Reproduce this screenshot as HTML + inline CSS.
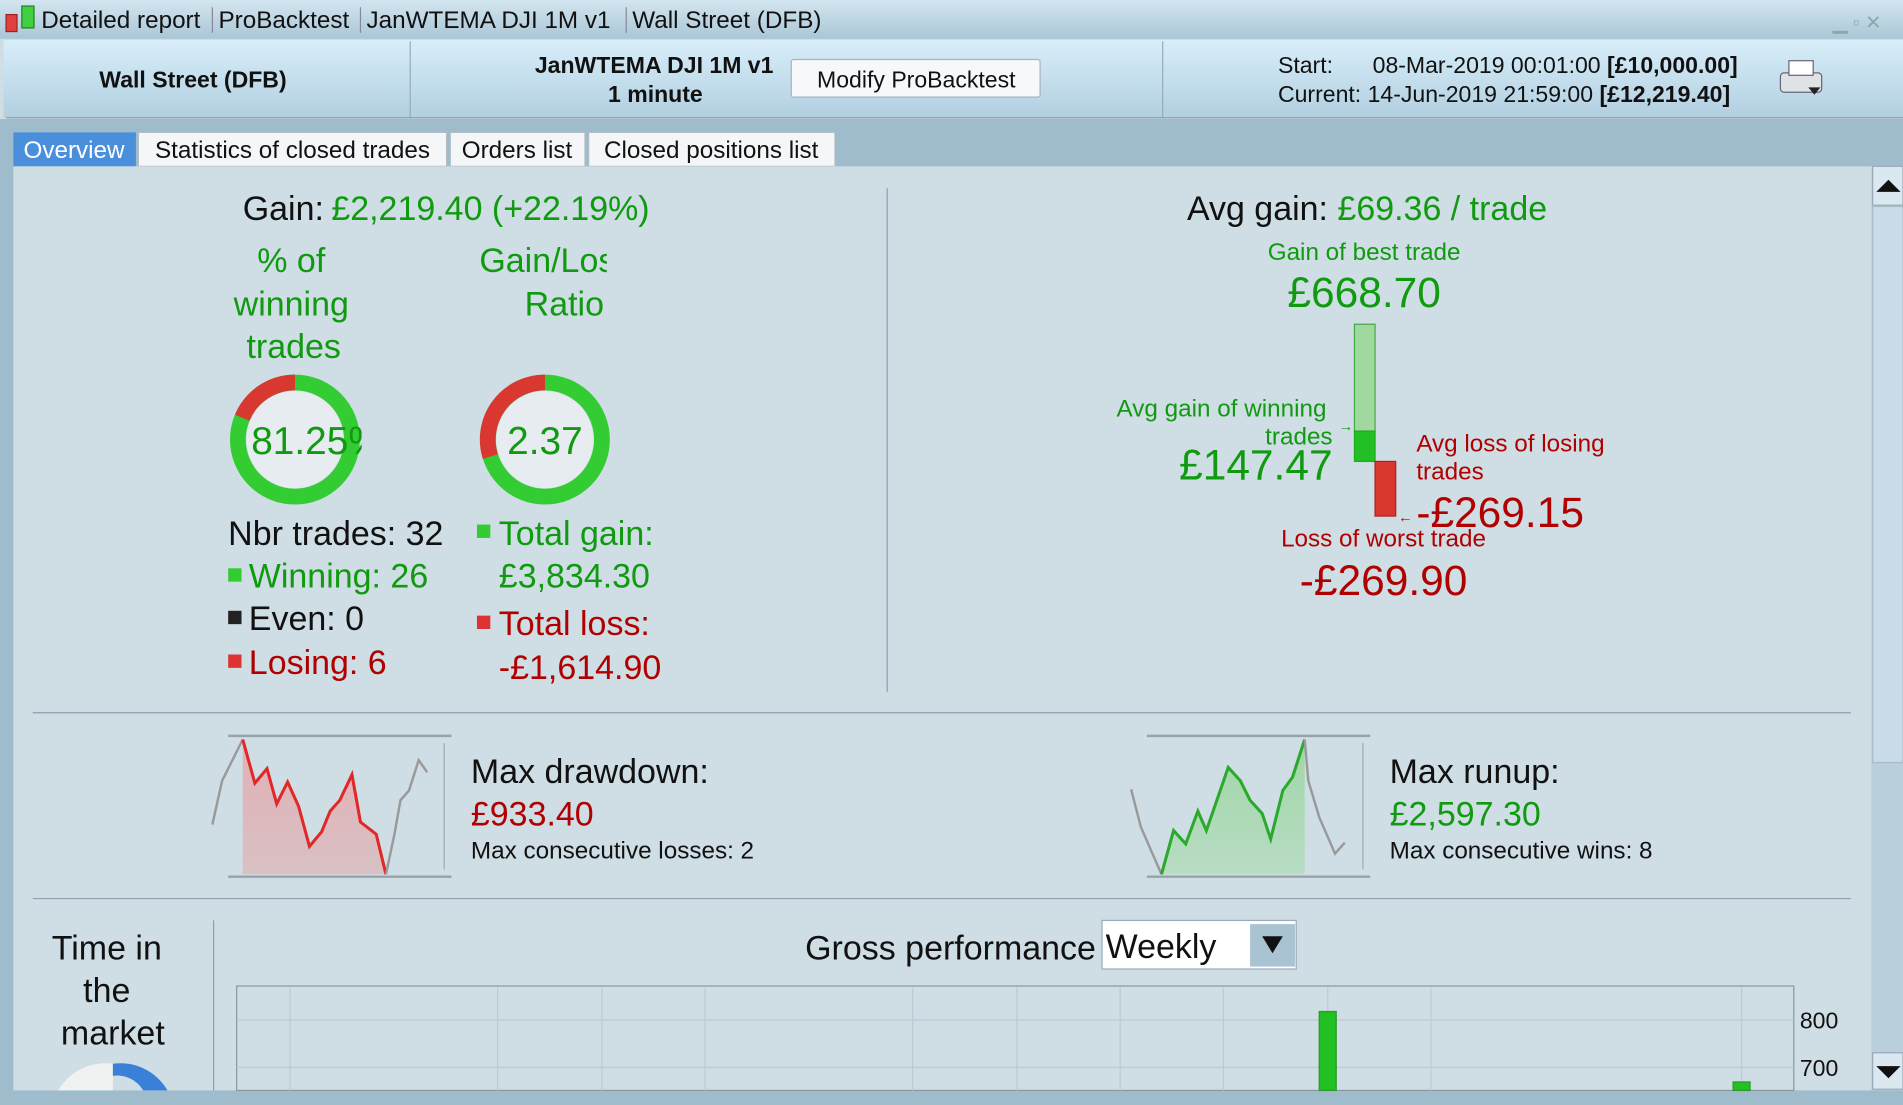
<!DOCTYPE html>
<html><head><meta charset="utf-8"><style>
html,body{margin:0;padding:0;width:1903px;height:1105px;overflow:hidden;background:#cfdde4}
svg{display:block}
text{font-family:"Liberation Sans",Arial,sans-serif}
</style></head><body>
<svg width="1903" height="1105" viewBox="0 0 1568 910" preserveAspectRatio="none" xmlns="http://www.w3.org/2000/svg">
<defs>
<linearGradient id="tb" x1="0" y1="0" x2="0" y2="1"><stop offset="0" stop-color="#d3e6f0"/><stop offset="1" stop-color="#aac6d6"/></linearGradient>
<linearGradient id="hd" x1="0" y1="0" x2="0" y2="1"><stop offset="0" stop-color="#d8eefa"/><stop offset="1" stop-color="#b2cfe0"/></linearGradient>
<linearGradient id="rf" x1="0" y1="0" x2="0" y2="1"><stop offset="0" stop-color="#e3b0b4"/><stop offset="1" stop-color="#d8c0c4"/></linearGradient>
<linearGradient id="gf" x1="0" y1="0" x2="0" y2="1"><stop offset="0" stop-color="#9fd6a6"/><stop offset="1" stop-color="#b8dcc4"/></linearGradient>
</defs>
<!-- title bar -->
<rect x="0" y="0" width="1568" height="32" fill="url(#tb)"/>
<rect x="5" y="12" width="9" height="14" fill="#e04040" stroke="#a02020"/>
<rect x="18" y="5" width="10" height="18" fill="#40d040" stroke="#208020"/>
<text x="34" y="23" font-size="20" fill="#111">Detailed report</text>
<line x1="175" y1="6" x2="175" y2="27" stroke="#889"/>
<text x="180" y="23" font-size="20" fill="#111">ProBacktest</text>
<line x1="297" y1="6" x2="297" y2="27" stroke="#889"/>
<text x="302" y="23" font-size="20" fill="#111">JanWTEMA DJI 1M v1</text>
<line x1="516" y1="6" x2="516" y2="27" stroke="#889"/>
<text x="521" y="23" font-size="20" fill="#111">Wall Street (DFB)</text>
<text x="1510" y="24" font-size="16" fill="#8aa">▁ ▫ ✕</text>
<!-- header -->
<rect x="3" y="33" width="1565" height="64" fill="url(#hd)"/>
<line x1="338" y1="34" x2="338" y2="97" stroke="#9ab"/>
<line x1="958" y1="34" x2="958" y2="97" stroke="#9ab"/>
<line x1="5" y1="97" x2="1568" y2="97" stroke="#8aa0ae"/>
<text x="159" y="72" font-size="19" font-weight="bold" text-anchor="middle" fill="#111">Wall Street (DFB)</text>
<text x="539" y="60" font-size="19" font-weight="bold" text-anchor="middle" fill="#111">JanWTEMA DJI 1M v1</text>
<text x="540" y="84" font-size="19" font-weight="bold" text-anchor="middle" fill="#111">1 minute</text>
<rect x="652" y="49" width="205" height="31" fill="#f6f8fa" stroke="#a8b4bc" rx="2"/>
<text x="755" y="72" font-size="19" text-anchor="middle" fill="#111">Modify ProBacktest</text>
<text x="1053" y="60" font-size="19" fill="#111">Start:</text>
<text x="1131" y="60" font-size="19" fill="#111">08-Mar-2019 00:01:00 <tspan font-weight="bold">[£10,000.00]</tspan></text>
<text x="1053" y="84" font-size="19" fill="#111">Current: 14-Jun-2019 21:59:00 <tspan font-weight="bold">[£12,219.40]</tspan></text>
<rect x="1467" y="60" width="34" height="16" rx="3" fill="#dfe3e6" stroke="#667"/>
<rect x="1474" y="50" width="20" height="12" fill="#fff" stroke="#667"/>
<path d="M1490 72 l10 0 l-5 6z" fill="#222"/>
<!-- tab strip -->
<rect x="0" y="98" width="1568" height="40" fill="#9fbccc"/>
<rect x="11" y="109" width="101" height="28" fill="#4a8fdc"/>
<text x="61" y="130" font-size="20" text-anchor="middle" fill="#fff">Overview</text>
<rect x="114" y="109" width="254" height="28" fill="#f4f6f8" stroke="#b0bcc4"/>
<text x="241" y="130" font-size="20" text-anchor="middle" fill="#111">Statistics of closed trades</text>
<rect x="371" y="109" width="111" height="28" fill="#f4f6f8" stroke="#b0bcc4"/>
<text x="426" y="130" font-size="20" text-anchor="middle" fill="#111">Orders list</text>
<rect x="485" y="109" width="203" height="28" fill="#f4f6f8" stroke="#b0bcc4"/>
<text x="586" y="130" font-size="20" text-anchor="middle" fill="#111">Closed positions list</text>
<!-- content -->
<rect x="11" y="137" width="1531" height="761" fill="#cfdde4"/>
<rect x="0" y="137" width="11" height="773" fill="#9fbccc"/>
<rect x="1542" y="137" width="26" height="773" fill="#b9cfdc"/>
<rect x="1543" y="137" width="25" height="32" fill="#dbe8f0" stroke="#9ab"/>
<path d="M1546 158 l10 -10 l10 10z" fill="#111"/>
<rect x="1543" y="170" width="25" height="458" fill="#c8dbe6" stroke="#a8bcc8"/>
<rect x="1543" y="867" width="25" height="30" fill="#dbe8f0" stroke="#9ab"/>
<path d="M1546 878 l10 10 l10 -10z" fill="#111"/>
<rect x="0" y="898" width="1568" height="12" fill="#9fbccc"/>
<!-- left stats -->
<text x="200" y="181" font-size="28" fill="#111">Gain:</text>
<text x="273" y="181" font-size="28" fill="#109a10">£2,219.40 (+22.19%)</text>
<g font-size="28" fill="#109a10" text-anchor="middle">
<text x="240" y="224">% of</text><text x="240" y="260">winning</text><text x="242" y="295">trades</text>
<text x="451" y="224">Gain/Los</text><text x="465" y="260">Ratio</text>
</g>
<rect x="500" y="195" width="30" height="40" fill="#cfdde4"/>
<!-- donuts -->
<circle cx="243" cy="362" r="47" fill="none" stroke="#33cc33" stroke-width="13"/>
<path d="M243 315 A47 47 0 0 0 199.6 344" fill="none" stroke="#d83830" stroke-width="13"/>
<circle cx="243" cy="362" r="40" fill="#e6ecf0"/>
<text x="207" y="374" font-size="32" fill="#109a10">81.25%</text>
<rect x="298" y="340" width="20" height="45" fill="#cfdde4"/>
<circle cx="449" cy="362" r="47" fill="none" stroke="#33cc33" stroke-width="13"/>
<path d="M449 315 A47 47 0 0 0 404 376" fill="none" stroke="#d83830" stroke-width="13"/>
<circle cx="449" cy="362" r="40" fill="#e6ecf0"/>
<text x="449" y="374" font-size="32" fill="#109a10" text-anchor="middle">2.37</text>
<g font-size="28">
<text x="188" y="449" fill="#111">Nbr trades: 32</text>
<rect x="188" y="468" width="11" height="11" fill="#3c3"/><text x="205" y="484" fill="#109a10">Winning: 26</text>
<rect x="188" y="503" width="11" height="11" fill="#222"/><text x="205" y="519" fill="#111">Even: 0</text>
<rect x="188" y="539" width="11" height="11" fill="#d33"/><text x="205" y="555" fill="#b00000">Losing: 6</text>
<rect x="393" y="432" width="11" height="11" fill="#3c3"/><text x="411" y="449" fill="#109a10">Total gain:</text>
<text x="411" y="484" fill="#109a10">£3,834.30</text>
<rect x="393" y="507" width="11" height="11" fill="#d33"/><text x="411" y="523" fill="#b00000">Total loss:</text>
<text x="411" y="559" fill="#b00000">-£1,614.90</text>
</g>
<line x1="731" y1="155" x2="731" y2="570" stroke="#8aa0ae"/>
<!-- right -->
<text x="978" y="181" font-size="28" fill="#111">Avg gain:</text>
<text x="1102" y="181" font-size="28" fill="#109a10">£69.36 / trade</text>
<text x="1124" y="214" font-size="20" fill="#109a10" text-anchor="middle">Gain of best trade</text>
<text x="1124" y="253" font-size="35" fill="#109a10" text-anchor="middle">£668.70</text>
<rect x="1116" y="267" width="17" height="88" fill="#a0d8a0" stroke="#4a4"/>
<rect x="1116" y="355" width="17" height="25" fill="#22c022" stroke="#2a2"/>
<rect x="1133" y="380" width="17" height="45" fill="#d83830" stroke="#a22"/>
<text x="1093" y="343" font-size="20" fill="#109a10" text-anchor="end">Avg gain of winning</text>
<text x="1098" y="366" font-size="20" fill="#109a10" text-anchor="end">trades</text>
<text x="1103" y="355" font-size="12" fill="#109a10">→</text>
<text x="1098" y="395" font-size="35" fill="#109a10" text-anchor="end">£147.47</text>
<text x="1167" y="372" font-size="20" fill="#b00000">Avg loss of losing</text>
<text x="1167" y="395" font-size="20" fill="#b00000">trades</text>
<text x="1152" y="430" font-size="12" fill="#b00000">←</text>
<text x="1167" y="434" font-size="35" fill="#b00000">-£269.15</text>
<text x="1140" y="450" font-size="20" fill="#b00000" text-anchor="middle">Loss of worst trade</text>
<text x="1140" y="490" font-size="35" fill="#b00000" text-anchor="middle">-£269.90</text>
<line x1="27" y1="587" x2="1525" y2="587" stroke="#8aa0ae"/>
<line x1="27" y1="740" x2="1525" y2="740" stroke="#8aa0ae"/>
<!-- drawdown -->
<polygon points="200,609 210,645 220,633 228,662 237,644 246,664 255,697 265,685 272,668 280,659 290,638 297,677 310,687 318,720 200,720" fill="url(#rf)"/>
<line x1="188" y1="606" x2="372" y2="606" stroke="#97a3a8" stroke-width="2"/>
<line x1="188" y1="722" x2="372" y2="722" stroke="#97a3a8" stroke-width="2"/>
<line x1="366" y1="612" x2="366" y2="716" stroke="#a0aaae"/>
<polyline points="175,679 183,643 200,609" fill="none" stroke="#999" stroke-width="2"/>
<polyline points="200,609 210,645 220,633 228,662 237,644 246,664 255,697 265,685 272,668 280,659 290,638 297,677 310,687 318,720" fill="none" stroke="#e02828" stroke-width="2.5"/>
<polyline points="318,720 325,687 330,659 337,651 345,626 352,636" fill="none" stroke="#999" stroke-width="2"/>
<text x="388" y="645" font-size="28" fill="#111">Max drawdown:</text>
<text x="388" y="680" font-size="28" fill="#b00000">£933.40</text>
<text x="388" y="707" font-size="20" fill="#111">Max consecutive losses: 2</text>
<!-- runup -->
<polygon points="957,720 967,684 977,695 987,668 994,684 1012,632 1022,643 1030,659 1040,670 1047,691 1057,651 1065,640 1075,609 1075,720" fill="url(#gf)"/>
<line x1="945" y1="606" x2="1129" y2="606" stroke="#97a3a8" stroke-width="2"/>
<line x1="945" y1="722" x2="1129" y2="722" stroke="#97a3a8" stroke-width="2"/>
<line x1="1123" y1="612" x2="1123" y2="716" stroke="#a0aaae"/>
<polyline points="932,650 940,681 957,720" fill="none" stroke="#999" stroke-width="2"/>
<polyline points="957,720 967,684 977,695 987,668 994,684 1012,632 1022,643 1030,659 1040,670 1047,691 1057,651 1065,640 1075,609" fill="none" stroke="#2aaa2a" stroke-width="2.5"/>
<polyline points="1075,609 1078,643 1087,673 1100,703 1108,694" fill="none" stroke="#999" stroke-width="2"/>
<text x="1145" y="645" font-size="28" fill="#111">Max runup:</text>
<text x="1145" y="680" font-size="28" fill="#109a10">£2,597.30</text>
<text x="1145" y="707" font-size="20" fill="#111">Max consecutive wins: 8</text>
<!-- bottom -->
<g font-size="28" fill="#111" text-anchor="middle">
<text x="88" y="790">Time in</text><text x="88" y="825">the</text><text x="93" y="860">market</text>
</g>
<path d="M48 898 A45 45 0 0 1 93 876 L93 898z" fill="#f0f2f2"/>
<path d="M93 876 A45 45 0 0 1 138 898 L118 898 A25 25 0 0 0 93 886z" fill="#3a80d8"/>
<line x1="176" y1="758" x2="176" y2="898" stroke="#8aa0ae"/>
<text x="903" y="790" font-size="28" fill="#111" text-anchor="end">Gross performance</text>
<rect x="908" y="758" width="160" height="40" fill="#fff" stroke="#9ab"/>
<text x="911" y="789" font-size="28" fill="#111">Weekly</text>
<rect x="1030" y="761" width="37" height="35" fill="#aac3d2"/>
<path d="M1040 771 l17 0 l-8.5 14z" fill="#111"/>
<rect x="195" y="812" width="1283" height="86" fill="#cfdde4" stroke="#8a98a0"/>
<g stroke="#bccbd3">
<line x1="195" y1="840" x2="1478" y2="840"/><line x1="195" y1="879" x2="1478" y2="879"/>
<line x1="239" y1="813" x2="239" y2="898"/><line x1="410" y1="813" x2="410" y2="898"/><line x1="496" y1="813" x2="496" y2="898"/><line x1="581" y1="813" x2="581" y2="898"/><line x1="752" y1="813" x2="752" y2="898"/><line x1="838" y1="813" x2="838" y2="898"/><line x1="923" y1="813" x2="923" y2="898"/><line x1="1008" y1="813" x2="1008" y2="898"/><line x1="1094" y1="813" x2="1094" y2="898"/><line x1="1179" y1="813" x2="1179" y2="898"/><line x1="1435" y1="813" x2="1435" y2="898"/>
</g>
<rect x="1087" y="833" width="14" height="65" fill="#22c022" stroke="#2a9a2a"/>
<rect x="1428" y="891" width="14" height="7" fill="#22c022" stroke="#2a9a2a"/>
<text x="1483" y="847" font-size="19" fill="#111">800</text>
<text x="1483" y="886" font-size="19" fill="#111">700</text>
</svg>
</body></html>
